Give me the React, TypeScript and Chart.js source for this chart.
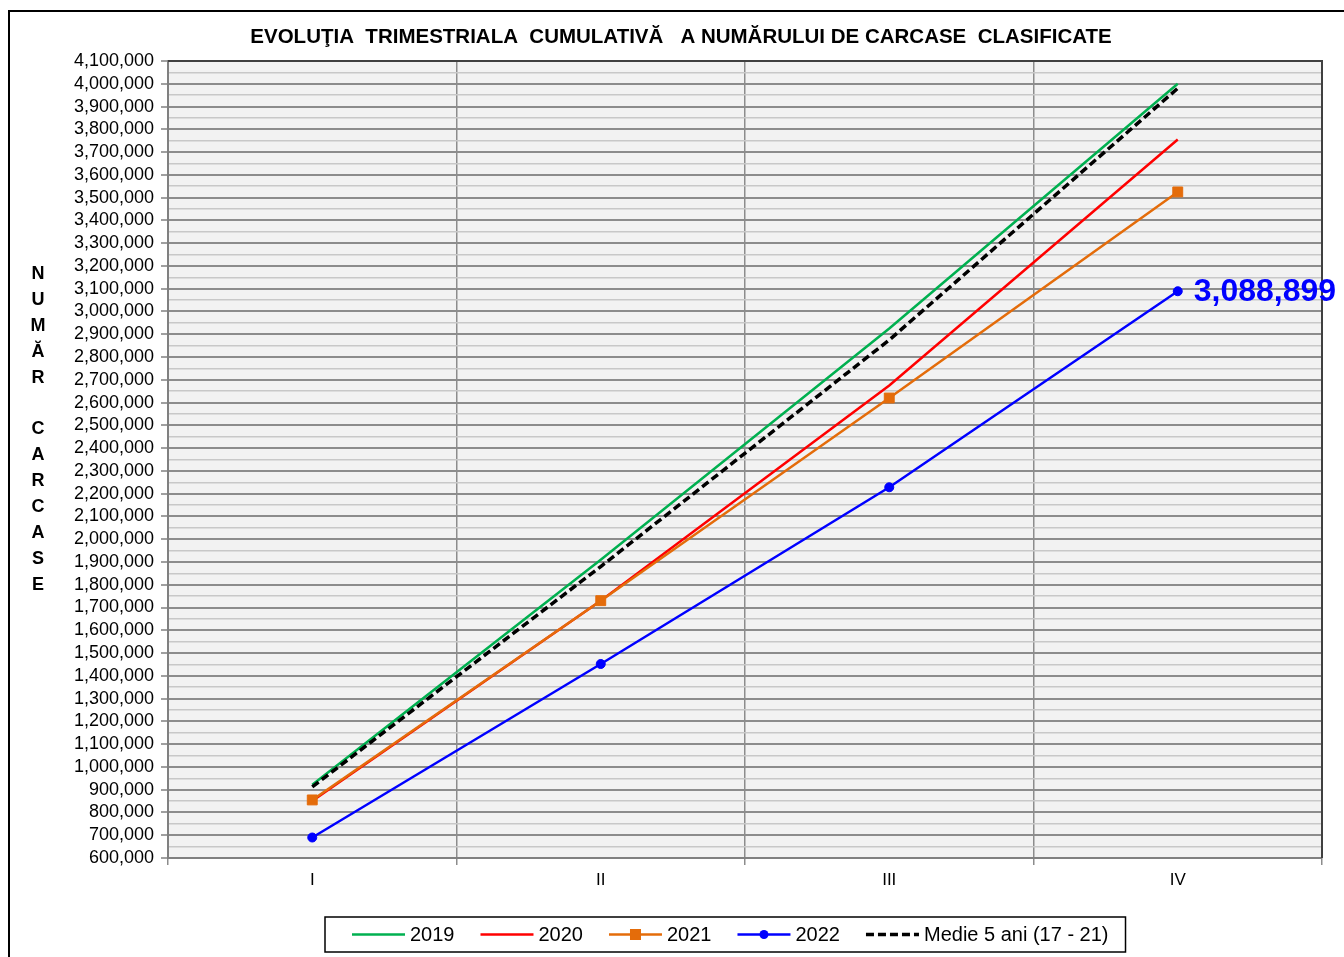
import React, { useEffect, useRef } from 'react';
import { Chart, registerables } from 'chart.js';

Chart.register(...registerables);

const quarters = ['I', 'II', 'III', 'IV'];
const series2019 = [922000, 1910000, 2925000, 4000000];
const series2020 = [850000, 1730000, 2675000, 3755000];
const series2021 = [855000, 1730000, 2620000, 3525000];
const series2022 = [690000, 1452000, 2228000, 3088899];
const seriesMedie = [912000, 1880000, 2875000, 3980000];
const seriesLabels = ['2019', '2020', '2021', '2022', 'Medie 5 ani (17 - 21)'];
const yMin = 600000;
const yMax = 4100000;
const yStep = 50000;
const yLabelStep = 100000;
const chartTitle = 'EVOLUŢIA  TRIMESTRIALA  CUMULATIVĂ   A NUMĂRULUI DE CARCASE  CLASIFICATE';
const axisTitleLetters = ['N', 'U', 'M', 'Ă', 'R', '', 'C', 'A', 'R', 'C', 'A', 'S', 'E'];

const FONT = '"Liberation Sans", Arial, sans-serif';
const fmt = (v: number) => v.toLocaleString('en-US');

const decorPlugin = {
  id: 'decor',
  beforeDraw(chart: any) {
    const { ctx, chartArea } = chart;
    const { left, top, right, bottom } = chartArea;
    ctx.save();
    ctx.fillStyle = '#f2f2f2';
    ctx.fillRect(left, top, right - left, bottom - top);
    ctx.restore();
  },
  afterDraw(chart: any) {
    const { ctx, chartArea } = chart;
    const { left, top, right, bottom } = chartArea;
    ctx.save();
    // title
    ctx.fillStyle = '#000';
    ctx.font = `bold 20.5px ${FONT}`;
    ctx.textAlign = 'center';
    ctx.textBaseline = 'middle';
    ctx.fillText(chartTitle, 671, 25);

    // top & right frame
    ctx.strokeStyle = '#404040';
    ctx.lineWidth = 2;
    ctx.beginPath();
    ctx.moveTo(left, top);
    ctx.lineTo(right, top);
    ctx.lineTo(right, bottom);
    ctx.stroke();

    // vertical axis title letters
    ctx.fillStyle = '#000';
    ctx.font = `bold 18px ${FONT}`;
    ctx.textAlign = 'center';
    ctx.textBaseline = 'middle';
    const startY = top + 213;
    axisTitleLetters.forEach((ch, i) => {
      if (ch) ctx.fillText(ch, 28, startY + i * 25.9);
    });

    // value label on last 2022 point
    const meta = chart.getDatasetMeta(3);
    const last = meta.data[meta.data.length - 1];
    if (last) {
      ctx.font = `bold 32px ${FONT}`;
      ctx.fillStyle = '#0000ff';
      ctx.textAlign = 'left';
      ctx.textBaseline = 'middle';
      ctx.fillText(fmt(series2022[series2022.length - 1]), last.x + 16, last.y + 1);
    }

    // legend
    const datasets = chart.data.datasets;
    ctx.font = `20px ${FONT}`;
    const boxLeft = 315;
    const boxTop = 905;
    const boxH = 35;
    const cy = boxTop + boxH / 2;
    let x = boxLeft + 27;
    const items: any[] = [];
    datasets.forEach((ds: any) => {
      const tw = ctx.measureText(ds.label).width;
      items.push({ ds, x, tw });
      x += 58 + tw + 26;
    });
    const boxW = x - 26 + 17 - boxLeft;
    ctx.fillStyle = '#ffffff';
    ctx.fillRect(boxLeft, boxTop, boxW, boxH);
    ctx.strokeStyle = '#000';
    ctx.lineWidth = 1.5;
    ctx.strokeRect(boxLeft, boxTop, boxW, boxH);
    items.forEach(({ ds, x: ix }) => {
      ctx.save();
      ctx.strokeStyle = ds.borderColor;
      ctx.lineWidth = ds.borderWidth;
      ctx.setLineDash(ds.borderDash || []);
      ctx.beginPath();
      ctx.moveTo(ix, cy);
      ctx.lineTo(ix + 53, cy);
      ctx.stroke();
      ctx.setLineDash([]);
      ctx.fillStyle = ds.borderColor;
      if (ds.pointStyle === 'rect') {
        ctx.fillRect(ix + 26.5 - 5.5, cy - 5.5, 11, 11);
      } else if (ds.pointStyle === 'circle' && ds.pointRadius > 0) {
        ctx.beginPath();
        ctx.arc(ix + 26.5, cy, 4.5, 0, Math.PI * 2);
        ctx.fill();
      }
      ctx.restore();
      ctx.fillStyle = '#000';
      ctx.textAlign = 'left';
      ctx.textBaseline = 'middle';
      ctx.font = `20px ${FONT}`;
      ctx.fillText(ds.label, ix + 58, cy + 1);
    });
    ctx.restore();
  },
};

export default function App() {
  const ref = useRef<HTMLCanvasElement>(null);

  useEffect(() => {
    if (!ref.current) return;
    const chart = new Chart(ref.current, {
      type: 'line',
      data: {
        labels: quarters,
        datasets: [
          { label: seriesLabels[0], data: series2019, borderColor: '#00b050', backgroundColor: '#00b050', borderWidth: 2.5, pointRadius: 0, order: 4 },
          { label: seriesLabels[1], data: series2020, borderColor: '#ff0000', backgroundColor: '#ff0000', borderWidth: 2.5, pointRadius: 0, order: 3 },
          { label: seriesLabels[2], data: series2021, borderColor: '#e46c0a', backgroundColor: '#e46c0a', borderWidth: 2.5, pointStyle: 'rect', pointRadius: 7, pointBorderWidth: 1, order: 2 },
          { label: seriesLabels[3], data: series2022, borderColor: '#0000ff', backgroundColor: '#0000ff', borderWidth: 2.5, pointStyle: 'circle', pointRadius: 4.5, pointBorderWidth: 1, order: 1 },
          { label: seriesLabels[4], data: seriesMedie, borderColor: '#000000', backgroundColor: '#000000', borderWidth: 3.5, borderDash: [8, 4], pointRadius: 0, order: 0 },
        ] as any,
      },
      options: {
        responsive: false,
        animation: false,
        devicePixelRatio: 1,
        layout: { padding: { left: 0, right: 32, top: 49, bottom: 59 } },
        plugins: {
          legend: { display: false },
          tooltip: { enabled: false },
          title: { display: false },
        },
        scales: {
          x: {
            type: 'category',
            offset: true,
            grid: { offset: true, color: '#8c8c8c', lineWidth: 1.5, tickLength: 7, drawTicks: true },
            border: { color: '#808080', width: 2 },
            ticks: { color: '#000', font: { family: FONT, size: 17 }, padding: 5 },
            afterFit: (s: any) => { s.height = 40; },
          },
          y: {
            type: 'linear',
            min: yMin,
            max: yMax,
            grid: {
              color: (c: any) => (c.tick && c.tick.value % yLabelStep === 0 ? '#8c8c8c' : '#c8c8c8'),
              lineWidth: (c: any) => (c.tick && c.tick.value % yLabelStep === 0 ? 2 : 1.5),
              tickColor: (c: any) => (c.tick && c.tick.value % yLabelStep === 0 ? '#808080' : 'rgba(0,0,0,0)'),
              tickLength: 7,
              tickWidth: 1.5,
              drawTicks: true,
            } as any,
            border: { color: '#808080', width: 2 },
            ticks: {
              stepSize: yStep,
              autoSkip: false,
              color: '#000',
              padding: 7,
              font: { family: FONT, size: 18 },
              callback: (v: any) => (Number(v) % yLabelStep === 0 ? fmt(Number(v)) : ''),
            },
            afterFit: (s: any) => { s.width = 158; },
          },
        },
      },
      plugins: [decorPlugin],
    });
    return () => chart.destroy();
  }, []);

  return (
    <>
      <div
        style={{
          position: 'fixed',
          left: 8,
          top: 10,
          width: 3000,
          height: 3000,
          borderLeft: '2px solid #000',
          borderTop: '2px solid #000',
          background: '#fff',
        }}
      />
      <canvas
        ref={ref}
        width={1344}
        height={945}
        style={{ position: 'fixed', left: 10, top: 12, width: 1344, height: 945 }}
      />
    </>
  );
}
